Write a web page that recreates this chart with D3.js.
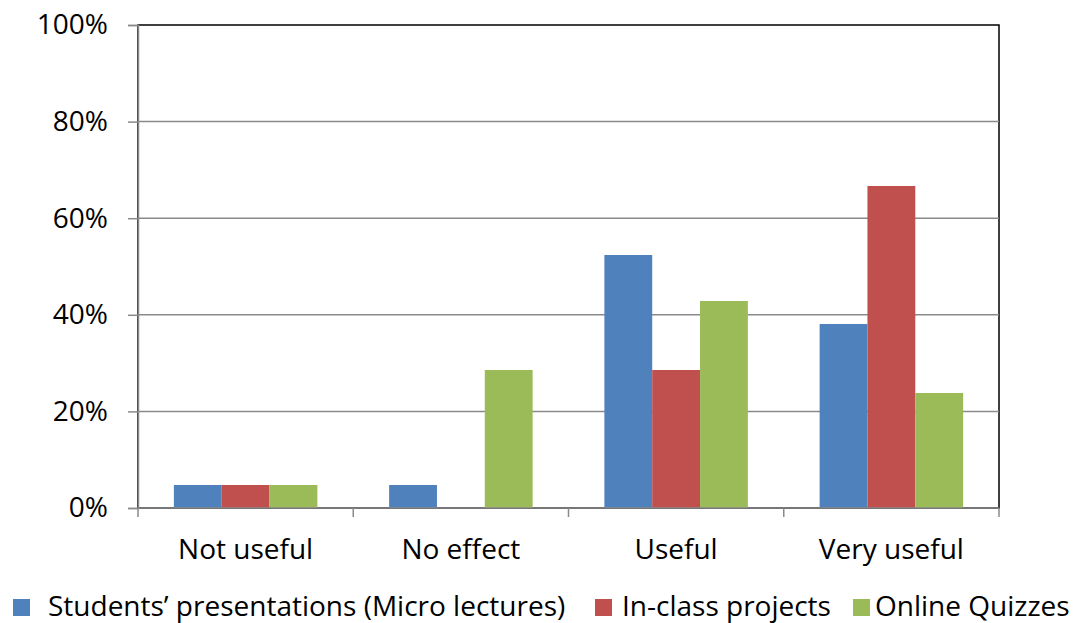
<!DOCTYPE html>
<html>
<head>
<meta charset="utf-8">
<script src="https://cdn.jsdelivr.net/npm/d3@7"></script>
<style>
  html, body { margin: 0; padding: 0; background: #fff; }
  svg { display: block; }
  text { font-family: "Open Sans", Lato, sans-serif; fill: #000; }
</style>
</head>
<body>
<svg id="chart" width="1082" height="623"></svg>
<script>
// Survey responses: share of students per rating
const categories = ["Not useful", "No effect", "Useful", "Very useful"];
const seriesNames = ["Students\u2019 presentations (Micro lectures)", "In-class projects", "Online Quizzes"];
const studentsPresentations = [4.76, 4.76, 52.38, 38.10];
const inClassProjects = [4.76, 0, 28.57, 66.67];
const onlineQuizzes = [4.76, 28.57, 42.86, 23.81];
const yTicks = [0, 20, 40, 60, 80, 100];
const colors = ["#4F81BD", "#C0504D", "#9BBB59"];

const seriesValues = [studentsPresentations, inClassProjects, onlineQuizzes];
const fontSize = 28;

const svg = d3.select("#chart");
const plot = { left: 138, right: 999, top: 25, bottom: 508 };

const x0 = d3.scaleBand().domain(categories).range([plot.left, plot.right]).padding(0);
const x1 = d3.scaleBand().domain(d3.range(seriesNames.length))
  .range([0, x0.bandwidth()]).paddingInner(0).paddingOuter(0.75);
const y = d3.scaleLinear().domain([0, 100]).range([plot.bottom, plot.top]);

// Plot area frame
svg.append("rect")
  .attr("x", plot.left).attr("y", plot.top)
  .attr("width", plot.right - plot.left).attr("height", plot.bottom - plot.top)
  .attr("fill", "none").attr("stroke", "#000").attr("stroke-width", 1.5);

// Horizontal gridlines
svg.append("g").selectAll("line")
  .data(yTicks.filter(t => t > 0 && t < 100))
  .join("line")
  .attr("x1", plot.left).attr("x2", plot.right)
  .attr("y1", d => y(d)).attr("y2", d => y(d))
  .attr("stroke", "#8a8a8a").attr("stroke-width", 1.5);

// Bars
const groups = svg.append("g").selectAll("g")
  .data(categories)
  .join("g")
  .attr("transform", d => `translate(${x0(d)},0)`);

groups.selectAll("rect")
  .data((c, i) => seriesValues.map((vals, s) => ({ s, v: vals[i] })))
  .join("rect")
  .attr("x", d => x1(d.s))
  .attr("width", x1.bandwidth())
  .attr("y", d => y(d.v))
  .attr("height", d => y(0) - y(d.v))
  .attr("fill", d => colors[d.s]);

// Y axis
const yAxis = svg.append("g")
  .attr("transform", `translate(${plot.left},0)`)
  .call(d3.axisLeft(y).tickValues(yTicks).tickFormat(d => d + "%").tickSize(10).tickPadding(20));
yAxis.select(".domain").attr("stroke", "#8a8a8a").attr("stroke-width", 1.5);
yAxis.selectAll(".tick line").attr("stroke", "#8a8a8a").attr("stroke-width", 1.5);
yAxis.selectAll(".tick text").attr("font-size", fontSize).attr("font-family", "'Open Sans', Lato, sans-serif");

// X axis: tick marks sit on category boundaries
const boundaries = categories.map(c => x0(c)).concat([plot.right]);
const xAxisG = svg.append("g");
xAxisG.append("line")
  .attr("x1", plot.left).attr("x2", plot.right)
  .attr("y1", plot.bottom).attr("y2", plot.bottom)
  .attr("stroke", "#8a8a8a").attr("stroke-width", 1.5);
xAxisG.selectAll("line.tk")
  .data(boundaries)
  .join("line")
  .attr("class", "tk")
  .attr("x1", d => d).attr("x2", d => d)
  .attr("y1", plot.bottom).attr("y2", plot.bottom + 9)
  .attr("stroke", "#8a8a8a").attr("stroke-width", 1.5);
xAxisG.selectAll("text")
  .data(categories)
  .join("text")
  .attr("x", d => x0(d) + x0.bandwidth() / 2)
  .attr("y", 559)
  .attr("text-anchor", "middle")
  .attr("font-size", fontSize)
  .text(d => d);

// Legend
const legendItems = [
  { sq: 13, tx: 48 },
  { sq: 595, tx: 622 },
  { sq: 853, tx: 875 }
];
const legend = svg.append("g");
legendItems.forEach((it, i) => {
  legend.append("rect")
    .attr("x", it.sq).attr("y", 599).attr("width", 17).attr("height", 17)
    .attr("fill", colors[i]);
  legend.append("text")
    .attr("x", it.tx).attr("y", 616)
    .attr("font-size", fontSize)
    .text(seriesNames[i]);
});
</script>
</body>
</html>
